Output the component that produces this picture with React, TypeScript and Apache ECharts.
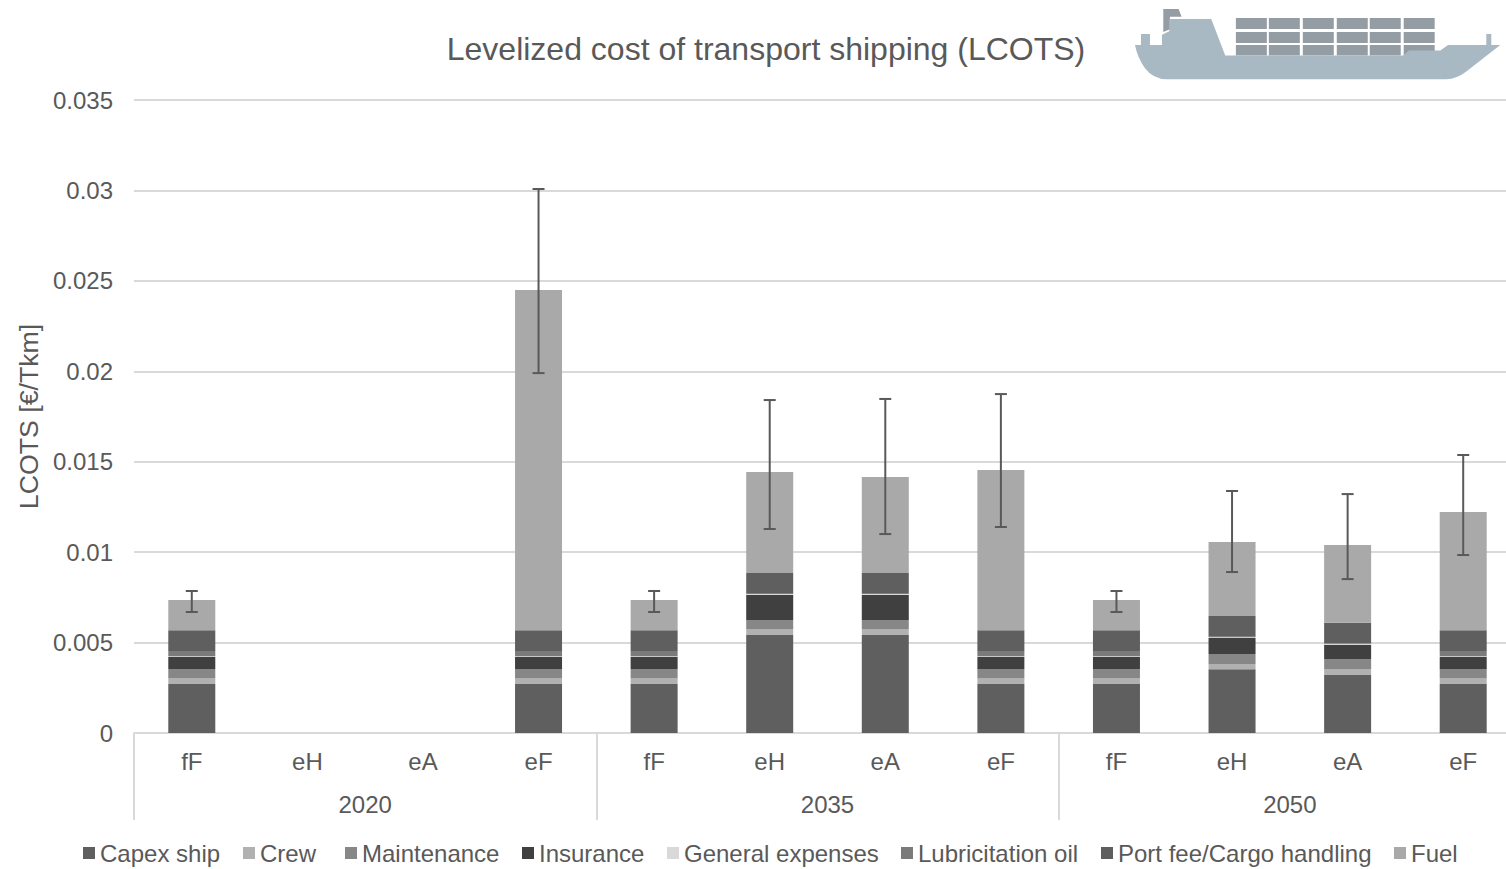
import React, { useEffect, useRef } from "react";
import * as echarts from "echarts";

const TITLE = "Levelized cost of transport shipping (LCOTS)";
const Y_NAME = "LCOTS [€/Tkm]";
const categories = ["fF", "eH", "eA", "eF", "fF", "eH", "eA", "eF", "fF", "eH", "eA", "eF"];
const years = ["2020", "2035", "2050"];

const capex = [0.00271, null, null, 0.00271, 0.00271, 0.00542, 0.00542, 0.00271, 0.00271, 0.00352, 0.00321, 0.00271];
const crew = [0.0003, null, null, 0.0003, 0.0003, 0.00033, 0.00033, 0.0003, 0.0003, 0.0003, 0.00033, 0.0003];
const maintenance = [0.00053, null, null, 0.00053, 0.00053, 0.0005, 0.0005, 0.00053, 0.00053, 0.00055, 0.00055, 0.00053];
const insurance = [0.00066, null, null, 0.00066, 0.00066, 0.00138, 0.00138, 0.00066, 0.00066, 0.00088, 0.00079, 0.00066];
const generalExpenses = [0.00005, null, null, 0.00005, 0.00005, 0.00005, 0.00005, 0.00005, 0.00005, 0.00005, 0.00005, 0.00005];
const lubrication = [0.00028, null, null, 0.00028, 0.00028, 0.00002, 0.00002, 0.00028, 0.00028, 0.00002, 0.00002, 0.00028];
const portFee = [0.00115, null, null, 0.00115, 0.00115, 0.00115, 0.00115, 0.00115, 0.00115, 0.00115, 0.00115, 0.00115];
const fuel = [0.00167, null, null, 0.01881, 0.00167, 0.00558, 0.0053, 0.00886, 0.00167, 0.00409, 0.0043, 0.00654];

const errorLow = [0.00669, null, null, 0.0199, 0.00669, 0.01128, 0.011, 0.01139, 0.00669, 0.0089, 0.00851, 0.00984];
const errorHigh = [0.00785, null, null, 0.03008, 0.00785, 0.01841, 0.01847, 0.01874, 0.00785, 0.01338, 0.01321, 0.01537];

const stackNames = ["Capex ship", "Crew", "Maintenance", "Insurance", "General expenses", "Lubricitation oil", "Port fee/Cargo handling", "Fuel"];
const stackValues = [capex, crew, maintenance, insurance, generalExpenses, lubrication, portFee, fuel];
const stackColors = ["#5f5f5f", "#b1b1b1", "#878787", "#404040", "#d9d9d9", "#7b7b7b", "#5f5f5f", "#a9a9a9"];
const legendLefts = [83, 243, 345, 522, 667, 901, 1101, 1394];

const FONT = "'Liberation Sans', Arial, sans-serif";
const TEXT = "#595959";
const GRID = "#d9d9d9";

const HULL =
  "M45 135 L63 135 L63 102 L90 102 L90 135 L126 135 L126 104 L148 94 L148 57 L274 57 L316 167 L850 167 L868 152 L962 152 L985 135 L1100 135 L1100 102 L1115 102 L1115 135 L1142 135 L1040 215 Q1010 238 980 238 L140 238 Q100 238 75 205 Q52 172 45 135 Z";
const FUNNEL = "M130 27 L176 27 L185 50 L150 50 L150 88 L130 96 Z";
const containerCols = [[348, 441], [447, 540], [549, 642], [651, 744], [750, 843], [852, 945]];
const containerRows = [[54, 87], [96, 129], [135, 167]];
const CONTAINERS = containerCols
  .map(([a, b]) => containerRows.map(([t, u]) => `M${a} ${t} L${b} ${t} L${b} ${u} L${a} ${u} Z`).join(" "))
  .join(" ");

echarts.graphic.registerShape("shipHull", echarts.graphic.extendPath(HULL, {}));
echarts.graphic.registerShape("shipFunnel", echarts.graphic.extendPath(FUNNEL, {}));
echarts.graphic.registerShape("shipContainers", echarts.graphic.extendPath(CONTAINERS, {}));

export default function App() {
  const ref = useRef<HTMLDivElement>(null);

  useEffect(() => {
    document.body.style.margin = "0";
    document.body.style.overflow = "hidden";
    const chart = echarts.init(ref.current!, undefined, { renderer: "svg" });

    const barSeries = stackNames.map((name, i) => ({
      name,
      type: "bar",
      stack: "total",
      barWidth: 47,
      xAxisIndex: 0,
      yAxisIndex: 0,
      itemStyle: { color: stackColors[i] },
      data: stackValues[i],
    }));

    const errorData = categories
      .map((_, i) => [i, errorLow[i], errorHigh[i]])
      .filter((d) => d[1] !== null);

    chart.setOption({
      animation: false,
      backgroundColor: "#ffffff",
      textStyle: { fontFamily: FONT },
      title: {
        text: TITLE,
        left: 761,
        top: 28,
        textAlign: "center",
        textStyle: { fontFamily: FONT, fontSize: 32, fontWeight: "normal", color: TEXT },
      },
      legend: stackNames.map((name, i) => ({
        data: [name],
        left: legendLefts[i],
        top: 841,
        padding: 0,
        icon: "rect",
        itemWidth: 12,
        itemHeight: 12,
        textStyle: { fontFamily: FONT, fontSize: 24, color: TEXT, padding: 0 },
      })),
      grid: { left: 134, right: 0, top: 100, bottom: 136, containLabel: false },
      xAxis: [
        {
          type: "category",
          data: categories,
          position: "bottom",
          axisLine: { show: true, lineStyle: { color: GRID, width: 2 } },
          axisTick: { show: false },
          axisLabel: { interval: 0, margin: 16, fontFamily: FONT, fontSize: 24, color: TEXT },
        },
        {
          type: "category",
          data: years,
          position: "bottom",
          axisLine: { show: false },
          axisTick: { show: true, interval: 0, length: 87, lineStyle: { color: GRID, width: 2 } },
          axisLabel: { interval: 0, margin: 59, fontFamily: FONT, fontSize: 24, color: TEXT },
        },
      ],
      yAxis: {
        type: "value",
        min: 0,
        max: 0.035,
        interval: 0.005,
        name: Y_NAME,
        nameLocation: "middle",
        nameGap: 89,
        nameTextStyle: { fontFamily: FONT, fontSize: 26.7, color: TEXT },
        axisLine: { show: false },
        axisTick: { show: false },
        axisLabel: { margin: 21, fontFamily: FONT, fontSize: 24, color: TEXT },
        splitLine: { lineStyle: { color: GRID, width: 2 } },
      },
      series: [
        ...barSeries,
        {
          name: "Error",
          type: "custom",
          xAxisIndex: 0,
          yAxisIndex: 0,
          z: 5,
          clip: false,
          encode: { x: 0, y: [1, 2] },
          data: errorData,
          renderItem: (_p: any, api: any) => {
            const x = api.value(0);
            const lo = api.coord([x, api.value(1)]);
            const hi = api.coord([x, api.value(2)]);
            const style = { stroke: "#595959", lineWidth: 2, fill: "none" };
            const cap = 6;
            return {
              type: "group",
              children: [
                { type: "line", shape: { x1: lo[0], y1: lo[1], x2: hi[0], y2: hi[1] }, style },
                { type: "line", shape: { x1: lo[0] - cap, y1: lo[1], x2: lo[0] + cap, y2: lo[1] }, style },
                { type: "line", shape: { x1: hi[0] - cap, y1: hi[1], x2: hi[0] + cap, y2: hi[1] }, style },
              ],
            };
          },
        },
      ],
      graphic: [
        {
          type: "group",
          x: 1120,
          y: 0,
          scaleX: 1 / 3,
          scaleY: 1 / 3,
          silent: true,
          children: [
            { type: "shipFunnel", style: { fill: "#949ca4" } },
            { type: "shipContainers", style: { fill: "#949ca4" } },
            { type: "shipHull", style: { fill: "#a9b9c3" } },
          ],
        },
      ],
    });

    return () => chart.dispose();
  }, []);

  return (
    <div style={{ width: 1506, height: 869, overflow: "hidden" }}>
      <div ref={ref} style={{ width: 1521, height: 869 }} />
    </div>
  );
}
